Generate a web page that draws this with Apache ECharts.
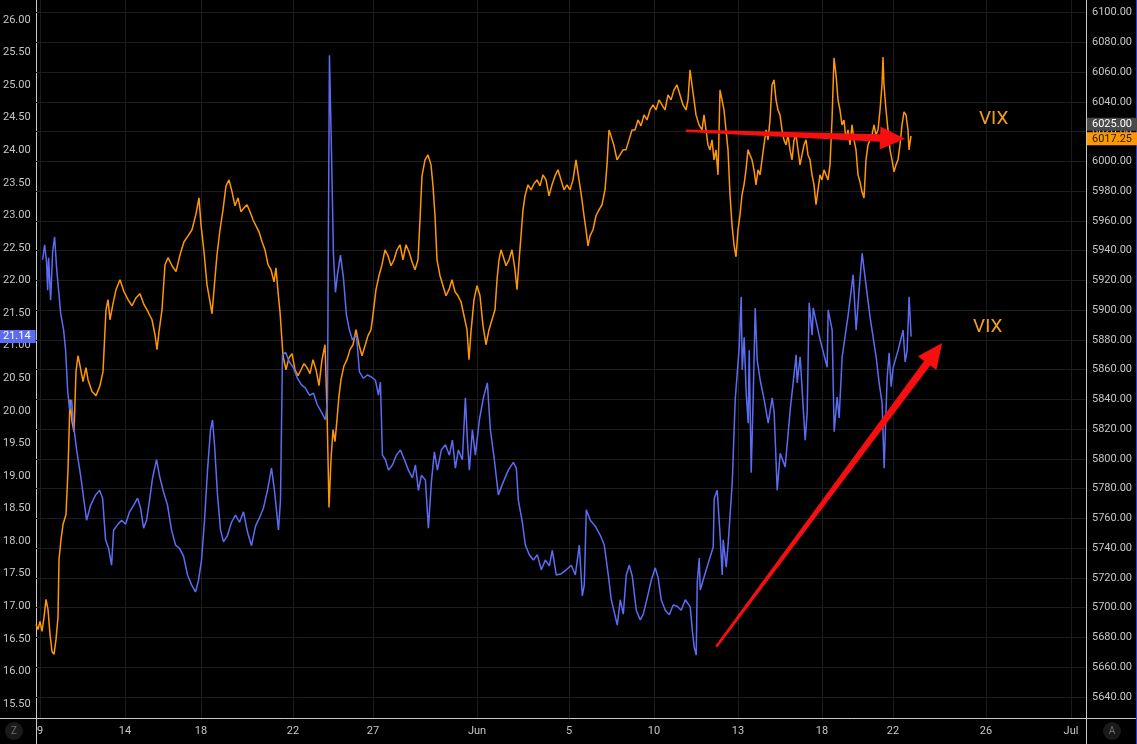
<!DOCTYPE html>
<html>
<head>
<meta charset="utf-8">
<title>VIX vs ES</title>
<script src="https://cdn.jsdelivr.net/npm/echarts@6/dist/echarts.min.js"></script>
<style>
    html, body { margin: 0; padding: 0; background: #000; }
    #main { width: 1137px; height: 744px; }
</style>
</head>
<body>
<div id="main"></div>
<script>
// x = bar number on the chart's compressed time scale
const tickBars = [4, 89, 165, 257, 337, 441, 533, 618, 702, 786, 857, 950, 1035]
const tickText = ['9', '14', '18', '22', '27', 'Jun', '5', '10', '13', '18', '22', '26', 'Jul']

// VIX (left scale)
const vix = [
    [6,22.32],[8,22.55],[10,22.28],[11,21.85],[12,22.35],[14,21.70],[16,22.44],[18,22.67],[20,22.19],[22,21.85],
    [24,21.50],[27,21.24],[29,20.93],[31,20.32],[33,20.01],[35,20.17],[37,19.78],[40,19.40],[44,19.01],[48,18.55],
    [50,18.32],[54,18.55],[59,18.71],[63,18.78],[66,18.66],[69,18.02],[72,17.89],[75,17.63],[77,18.17],[81,18.25],
    [85,18.32],[89,18.26],[93,18.45],[97,18.55],[101,18.66],[104,18.51],[107,18.20],[110,18.32],[113,18.63],[116,18.97],
    [120,19.25],[123,19.00],[127,18.75],[131,18.55],[135,18.17],[139,17.94],[143,17.89],[147,17.77],[151,17.48],[155,17.33],
    [159,17.22],[162,17.40],[165,17.71],[168,18.32],[171,19.09],[174,19.71],[176,19.86],[178,19.48],[181,18.71],[184,18.17],
    [187,17.99],[191,18.09],[195,18.29],[199,18.40],[203,18.29],[207,18.45],[211,18.14],[215,17.93],[219,18.23],[223,18.36],
    [227,18.51],[231,18.78],[235,19.12],[238,18.78],[242,18.17],[244,18.63],[246,20.86],[249,20.90],[253,20.75],[257,20.66],
    [261,20.50],[265,20.40],[269,20.35],[273,20.24],[277,20.27],[281,20.09],[285,19.98],[289,19.86],[291,20.17],[293,25.46],
    [295,24.00],[297,22.39],[299,21.82],[301,22.09],[304,22.39],[307,22.04],[310,21.47],[313,21.24],[316,21.09],[320,21.16],
    [323,20.60],[327,20.50],[331,20.55],[335,20.52],[339,20.47],[342,20.24],[344,20.44],[346,19.32],[349,19.25],[352,19.09],
    [356,19.17],[360,19.32],[364,19.40],[368,19.25],[372,19.09],[376,18.97],[379,19.17],[382,18.78],[385,19.01],[389,18.94],
    [392,18.20],[395,18.91],[398,19.37],[401,19.09],[405,19.40],[409,19.48],[413,19.32],[416,19.55],[419,19.12],[422,19.40],
    [426,19.25],[429,20.20],[431,19.55],[433,19.09],[436,19.71],[439,19.32],[443,19.86],[447,20.20],[451,20.43],[454,19.71],
    [458,19.25],[462,18.71],[467,18.91],[472,19.09],[477,19.21],[480,19.12],[482,18.63],[486,18.29],[489,17.94],[493,17.79],
    [497,17.71],[501,17.79],[505,17.56],[509,17.71],[513,17.62],[516,17.86],[520,17.48],[525,17.50],[530,17.56],[535,17.63],
    [539,17.48],[543,17.94],[546,17.16],[548,17.33],[550,18.48],[554,18.32],[559,18.23],[564,18.09],[568,17.94],[572,17.48],
    [575,17.10],[578,16.91],[581,16.71],[584,17.10],[587,16.88],[590,17.48],[593,17.63],[596,17.46],[600,16.94],[604,16.79],
    [607,16.88],[611,17.13],[615,17.40],[619,17.59],[622,17.43],[625,17.10],[629,16.94],[633,16.87],[637,17.02],[641,17.00],
    [645,16.94],[649,17.10],[651,17.13],[654,16.99],[656,16.64],[658,16.37],[660,16.25],[661,17.36],[663,17.74],[664,17.25],
    [670,17.56],[677,17.91],[678,18.66],[681,18.78],[684,18.06],[686,17.48],[687,18.02],[690,17.60],[692,17.97],[696,18.89],
    [699,20.17],[703,20.98],[705,21.75],[706,20.63],[708,21.13],[710,20.27],[712,19.81],[713,20.93],[715,19.05],[717,20.21],
    [719,21.58],[721,20.78],[724,20.47],[728,20.17],[732,19.81],[736,20.20],[738,19.97],[741,18.78],[744,19.35],[749,19.14],
    [754,20.01],[760,20.86],[761,20.43],[764,20.83],[767,20.06],[769,19.55],[771,19.97],[773,21.66],[776,21.16],[777,21.58],
    [784,21.09],[791,20.67],[792,21.55],[796,21.24],[798,19.68],[801,20.21],[803,19.89],[806,20.83],[812,21.47],[817,22.09],
    [820,21.24],[823,21.86],[826,22.42],[829,22.04],[834,21.43],[840,20.83],[843,20.43],[846,20.12],[848,19.12],[851,20.50],
    [853,20.89],[855,20.37],[857,20.66],[862,20.93],[867,21.24],[869,20.75],[871,20.93],[873,21.75],[875,21.14]
]

// ES futures (right scale)
const es = [
    [0,5688.8],[2,5685.4],[4,5690.8],[6,5684.1],[8,5693.5],[10,5705.6],[12,5698.9],[14,5682.1],[16,5670.6],[18,5668.6],
    [20,5678.7],[22,5693.5],[23,5732.4],[25,5745.9],[27,5755.9],[30,5762.7],[32,5792.9],[34,5839.9],[36,5825.1],[38,5818.4],
    [40,5858.7],[42,5869.4],[44,5862.7],[47,5852.0],[50,5861.4],[52,5853.3],[56,5845.3],[60,5842.6],[64,5849.3],[67,5858.7],
    [70,5900.3],[72,5907.1],[74,5893.6],[77,5904.4],[80,5913.8],[84,5920.5],[88,5912.4],[92,5907.1],[96,5903.0],[100,5908.4],
    [104,5911.1],[108,5903.7],[112,5899.0],[116,5893.6],[119,5883.5],[121,5873.5],[123,5885.6],[126,5900.3],[129,5930.6],[132,5935.3],
    [136,5929.9],[140,5925.9],[144,5937.3],[148,5946.0],[152,5950.0],[156,5954.1],[160,5964.8],[163,5975.5],[165,5957.4],[168,5939.3],
    [171,5917.1],[174,5905.7],[176,5897.6],[178,5913.8],[181,5937.3],[184,5954.1],[187,5967.5],[190,5983.6],[193,5987.6],[196,5979.6],
    [199,5970.2],[202,5975.5],[205,5966.2],[208,5968.8],[211,5970.9],[214,5966.2],[217,5960.8],[220,5956.7],[223,5952.7],[226,5946.0],
    [229,5940.6],[232,5930.6],[235,5927.2],[238,5919.1],[240,5928.5],[242,5912.4],[244,5899.0],[247,5869.4],[250,5860.0],[253,5868.1],
    [256,5870.8],[259,5860.0],[262,5856.0],[265,5860.0],[268,5864.1],[271,5861.4],[274,5857.4],[277,5866.8],[280,5860.0],[283,5849.3],
    [286,5866.8],[289,5876.8],[291,5833.2],[293,5767.4],[295,5799.6],[297,5819.7],[299,5811.7],[301,5826.5],[303,5842.6],[305,5853.3],
    [308,5862.7],[311,5866.8],[314,5873.5],[317,5876.8],[320,5886.9],[323,5876.8],[326,5869.4],[329,5876.1],[332,5882.9],[335,5886.9],
    [337,5897.0],[340,5913.8],[343,5923.2],[346,5930.6],[349,5940.6],[352,5936.6],[355,5929.9],[358,5933.9],[361,5940.6],[364,5944.0],
    [367,5933.9],[370,5944.0],[373,5939.3],[376,5932.6],[379,5927.2],[382,5933.9],[384,5960.8],[386,5990.3],[389,6001.1],[392,6004.4],
    [395,5997.7],[397,5983.6],[399,5963.5],[401,5933.9],[404,5923.2],[407,5916.5],[410,5909.7],[413,5913.8],[416,5920.5],[419,5912.4],
    [422,5909.7],[425,5905.7],[428,5896.3],[431,5886.9],[433,5866.8],[435,5885.6],[438,5907.1],[441,5916.5],[444,5909.7],[447,5889.6],
    [450,5876.8],[453,5886.9],[456,5893.6],[459,5900.3],[461,5920.5],[463,5933.9],[465,5940.6],[467,5936.6],[470,5929.9],[473,5933.9],
    [476,5940.6],[479,5927.2],[481,5913.8],[483,5932.6],[485,5950.0],[487,5967.5],[489,5976.9],[492,5984.3],[495,5980.9],[498,5985.0],
    [501,5987.6],[504,5983.6],[507,5991.0],[510,5987.6],[513,5976.9],[516,5984.3],[519,5990.3],[522,5994.4],[525,5987.6],[528,5980.9],
    [531,5984.3],[534,5980.9],[537,5987.6],[540,6001.1],[543,5987.6],[546,5974.2],[548,5963.5],[550,5954.1],[552,5943.3],[554,5950.0],
    [557,5954.1],[560,5963.5],[563,5967.5],[566,5970.9],[569,5980.9],[571,5997.7],[573,6021.2],[575,6017.2],[578,6010.5],[581,6001.1],
    [584,6004.4],[587,6007.8],[590,6007.8],[593,6014.5],[596,6021.2],[599,6021.2],[602,6027.9],[605,6023.9],[608,6031.3],[611,6027.9],
    [614,6034.6],[617,6038.0],[620,6034.6],[623,6041.4],[626,6038.0],[629,6034.6],[632,6044.7],[635,6041.4],[638,6048.1],[641,6051.4],
    [644,6044.7],[647,6038.0],[650,6034.6],[652,6041.4],[654,6061.5],[656,6051.4],[658,6041.4],[660,6031.3],[663,6024.6],[666,6021.2],
    [668,6031.3],[670,6021.2],[672,6011.1],[674,6007.8],[676,6014.5],[678,6001.1],[680,6007.8],[682,5991.0],[684,6048.1],[686,6041.4],
    [688,6034.6],[690,6021.2],[692,6007.8],[694,5977.6],[696,5957.4],[698,5944.0],[700,5935.9],[702,5954.1],[704,5964.1],[706,5977.6],
    [708,5984.3],[710,5994.4],[712,6007.8],[714,6004.4],[716,6001.1],[718,5994.4],[720,5984.3],[722,5994.4],[724,5991.0],[726,6001.1],
    [728,6011.1],[730,6021.2],[732,6014.5],[734,6027.9],[736,6051.4],[738,6054.8],[740,6041.4],[742,6034.6],[744,6031.3],[746,6021.2],
    [748,6014.5],[750,6011.1],[752,6017.9],[754,6007.8],[756,6001.1],[758,6014.5],[760,6017.9],[762,6007.8],[764,5997.7],[766,6004.4],
    [768,6011.1],[770,6014.5],[772,6004.4],[774,6001.1],[776,5991.0],[778,5984.3],[780,5970.9],[782,5980.9],[784,5991.0],[786,5987.6],
    [788,5994.4],[790,5991.0],[792,5987.6],[794,5997.7],[796,6027.9],[798,6069.6],[800,6058.2],[802,6041.4],[804,6034.6],[806,6024.6],
    [808,6027.9],[810,6014.5],[812,6021.2],[814,6011.1],[816,6024.6],[818,6014.5],[820,6007.8],[822,5991.0],[824,5986.3],[826,5979.6],
    [828,5975.5],[830,6001.1],[832,6011.1],[834,6014.5],[836,6017.9],[838,6024.6],[840,6017.9],[842,6021.2],[844,6034.6],[846,6051.4],
    [847,6070.2],[848,6051.4],[850,6034.6],[852,6021.2],[854,6007.8],[856,6001.1],[858,5993.0],[860,5997.7],[862,6001.1],[864,6011.1],
    [866,6024.6],[868,6033.3],[870,6031.3],[872,6021.2],[873,6007.8],[875,6017.25]
]

// drawn annotations: [startBar, startValue, tipBar, tipValue]
const esArrow = [[650, 6020.6, 869, 6015.2]]
const vixArrow = [[680, 16.38, 906, 21.04]]
// text notes: [bar, value]
const esNote = [[943, 6028.6]]
const vixNote = [[937, 21.29]]
const noteText = 'VIX'

const vixLast = 21.14
const esLast = 6017.25
const esLine = 6025.00

const FONT = 'Roboto, "Liberation Sans", sans-serif'
const labelColor = '#c6c6c6'
const gridColor = '#1c1c1c'
const frameColor = '#c9c9c9'
const orange = '#ff9800'
const blue = '#5b6cf2'
const red = '#f70f0f'
const clear = 'rgba(0,0,0,0)'

function renderArrow(params, api) {
    var p0 = api.coord([api.value(0), api.value(1)])
    var p1 = api.coord([api.value(2), api.value(3)])
    var dx = p1[0] - p0[0], dy = p1[1] - p0[1]
    var len = Math.sqrt(dx * dx + dy * dy)
    var ux = dx / len, uy = dy / len
    var nx = -uy, ny = ux
    var head = 25, half = 11.5, w0 = 1.3, w1 = 3.8
    var bx = p1[0] - ux * head, by = p1[1] - uy * head
    return {
        type: 'polygon',
        shape: {
            points: [
                [p0[0] + nx * w0, p0[1] + ny * w0],
                [bx + nx * w1, by + ny * w1],
                [bx + nx * half, by + ny * half],
                p1,
                [bx - nx * half, by - ny * half],
                [bx - nx * w1, by - ny * w1],
                [p0[0] - nx * w0, p0[1] - ny * w0]
            ]
        },
        style: { fill: red }
    }
}

function renderNote(params, api) {
    var p = api.coord([api.value(0), api.value(1)])
    return {
        type: 'text',
        x: p[0],
        y: p[1],
        style: {
            text: noteText,
            fill: '#f2a11f',
            font: '19px ' + FONT,
            align: 'left',
            verticalAlign: 'middle'
        }
    }
}

function priceTag(value, text, fg, bg, position, offset) {
    return {
        yAxis: value,
        lineStyle: { color: clear, width: 0 },
        label: {
            show: true,
            position: position,
            distance: 1,
            offset: offset,
            formatter: text,
            color: fg,
            backgroundColor: bg,
            padding: [1, 5],
            fontFamily: FONT,
            fontSize: 11
        }
    }
}

var chartDom = document.getElementById('main');
var myChart = echarts.init(chartDom);
var option;

option = {
    backgroundColor: '#000',
    animation: false,
    grid: [
        { left: 36, right: 51, top: 0, bottom: 26 },
        { left: 36, right: 51, top: 20, bottom: 40 },
        { left: 36, right: 51, top: 12.7, bottom: 47 }
    ],
    xAxis: [
        {
            gridIndex: 0,
            type: 'value',
            min: 0,
            max: 1050,
            axisLine: { show: false },
            axisTick: { show: false, customValues: tickBars },
            axisLabel: {
                customValues: tickBars,
                formatter: function (v) { return tickText[tickBars.indexOf(v)] },
                color: labelColor,
                fontFamily: FONT,
                fontSize: 11,
                margin: 8
            },
            splitLine: { show: true, lineStyle: { color: gridColor } }
        },
        { gridIndex: 1, type: 'value', min: 0, max: 1050, show: false },
        { gridIndex: 2, type: 'value', min: 0, max: 1050, show: false }
    ],
    yAxis: [
        { gridIndex: 0, type: 'value', min: 0, max: 1, show: false },
        {
            gridIndex: 1,
            type: 'value',
            position: 'left',
            min: 15.5,
            max: 26,
            interval: 0.5,
            axisLine: { show: false },
            axisTick: { show: false },
            splitLine: { show: false },
            axisLabel: {
                formatter: function (v) { return v.toFixed(2) },
                color: labelColor,
                fontFamily: FONT,
                fontSize: 11,
                margin: 6
            }
        },
        {
            gridIndex: 2,
            type: 'value',
            position: 'right',
            min: 5640,
            max: 6100,
            interval: 20,
            axisLine: { show: false },
            axisTick: { show: false },
            splitLine: { show: true, lineStyle: { color: gridColor } },
            axisLabel: {
                formatter: function (v) { return v.toFixed(2) },
                color: labelColor,
                fontFamily: FONT,
                fontSize: 11,
                margin: 6
            }
        }
    ],
    series: [
        {
            name: 'ES',
            type: 'line',
            xAxisIndex: 2,
            yAxisIndex: 2,
            data: es,
            showSymbol: false,
            lineStyle: { color: orange, width: 1.5 },
            markLine: {
                silent: true,
                symbol: 'none',
                data: [
                    priceTag(esLine, esLine.toFixed(2), '#ffffff', '#4a4a4a', 'end', [0, 0]),
                    priceTag(esLast, esLast.toFixed(2), '#1a1a1a', orange, 'end', [0, 3])
                ]
            }
        },
        {
            name: 'VIX',
            type: 'line',
            xAxisIndex: 1,
            yAxisIndex: 1,
            data: vix,
            showSymbol: false,
            lineStyle: { color: blue, width: 1.5 },
            markLine: {
                silent: true,
                symbol: 'none',
                data: [priceTag(vixLast, vixLast.toFixed(2), '#ffffff', blue, 'start', [0, 0])]
            }
        },
        { type: 'custom', xAxisIndex: 2, yAxisIndex: 2, data: esArrow, renderItem: renderArrow, silent: true, z: 5 },
        { type: 'custom', xAxisIndex: 1, yAxisIndex: 1, data: vixArrow, renderItem: renderArrow, silent: true, z: 5 },
        { type: 'custom', xAxisIndex: 2, yAxisIndex: 2, data: esNote, renderItem: renderNote, silent: true, z: 5 },
        { type: 'custom', xAxisIndex: 1, yAxisIndex: 1, data: vixNote, renderItem: renderNote, silent: true, z: 5 }
    ],
    graphic: [
        { type: 'line', silent: true, shape: { x1: 0, y1: 718.5, x2: 1137, y2: 718.5 }, style: { stroke: frameColor, lineWidth: 1 } },
        { type: 'line', silent: true, shape: { x1: 36.5, y1: 0, x2: 36.5, y2: 744 }, style: { stroke: frameColor, lineWidth: 1 } },
        { type: 'line', silent: true, shape: { x1: 1086.5, y1: 0, x2: 1086.5, y2: 744 }, style: { stroke: frameColor, lineWidth: 1 } },
        { type: 'line', silent: true, shape: { x1: 1136.5, y1: 0, x2: 1136.5, y2: 744 }, style: { stroke: '#2b3fd8', lineWidth: 1 } },
        { type: 'circle', silent: true, shape: { cx: 14, cy: 731, r: 9 }, style: { fill: '#1a1a1a' } },
        { type: 'text', silent: true, x: 14, y: 731, style: { text: 'Z', fill: '#6e6e6e', font: '10px ' + FONT, align: 'center', verticalAlign: 'middle' } },
        { type: 'circle', silent: true, shape: { cx: 1112, cy: 731, r: 9 }, style: { fill: '#1a1a1a' } },
        { type: 'text', silent: true, x: 1112, y: 731, style: { text: 'A', fill: '#6e6e6e', font: '10px ' + FONT, align: 'center', verticalAlign: 'middle' } }
    ]
};
option && myChart.setOption(option);
</script>
</body>
</html>
